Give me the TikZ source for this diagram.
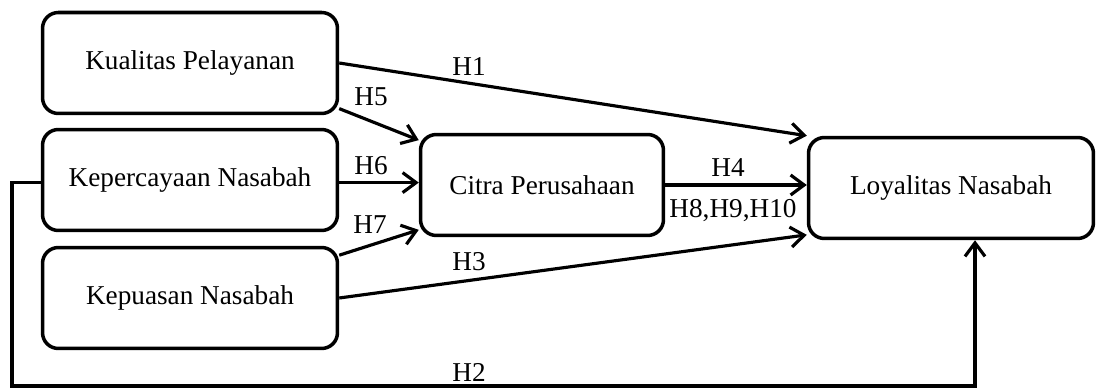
\documentclass[tikz,border=0pt]{standalone}
\usepackage{fontspec}
\setmainfont{Liberation Serif}
\usetikzlibrary{arrows.meta}

\begin{document}
\begin{tikzpicture}[x=0.02cm, y=-0.02cm, every node/.style={font=\fontsize{15.5}{18}\selectfont},
		var/.style={draw, line width=2pt, rounded corners=9pt, minimum height=2.02cm, inner sep=0pt},
		arr/.style={line width=1.8pt, -{Straight Barb[length=2.7mm, width=4mm]}}]
			\useasboundingbox (0,0) rectangle (1096,388);

			% Boxes
			\node[var, minimum width=5.9cm] (kual) at (190,63) {Kualitas Pelayanan};
			\node[var, minimum width=5.9cm] (kerp) at (190,180) {Kepercayaan Nasabah};
			\node[var, minimum width=5.9cm] (kepu) at (190,298) {Kepuasan Nasabah};
			\node[var, minimum width=4.86cm] (citra) at (542,185) {Citra Perusahaan};
			\node[var, minimum width=5.7cm] (loy) at (951,188) {Loyalitas Nasabah};

			% Arrows
			\draw[arr] (kual.east) -- (loy.north west);
			\draw[arr] (kual.-17) -- (citra.160);
			\draw[arr] (kerp.-1) -- (kerp.-1 -| citra.west);
			\draw[arr] (kepu.16) -- (citra.200);
			\draw[arr] (kepu.east) -- (loy.198);
			\draw[arr] (citra.east) -- (citra.east -| loy.west);
			\coordinate (h2a) at (12,386);
			\coordinate (h2b) at (975,386);
			\draw[arr] (kerp.181) -| (h2a) -- (h2b) -- (h2b |- loy.south);

			% Labels
			\node (h1) at (469,67) {H1};
			\node (h5) at (371,97) {H5};
			\node (h6) at (371,166) {H6};
			\node (h7) at (370,225) {H7};
			\node (h3) at (469,262) {H3};
			\node (h4) at (728,168) {H4};
			\node (h8) at (733,211) {H8,H9,H10};
			\node (h2) at (469,372) {H2};
		\end{tikzpicture}
\end{document}
